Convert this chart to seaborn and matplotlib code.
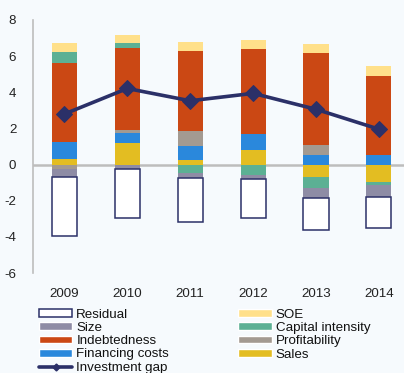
import numpy as np
import matplotlib
matplotlib.use("Agg")
import matplotlib.pyplot as plt
from matplotlib.patches import Patch
from matplotlib.lines import Line2D
import seaborn as sns

# ---- data (percentage points) ----
years = ["2009", "2010", "2011", "2012", "2013", "2014"]
sales = [0.33, 1.20, 0.25, 0.80, -0.71, -0.99]
financing_costs = [0.90, 0.57, 0.79, 0.89, 0.53, 0.53]
profitability = [-0.27, 0.15, 0.84, 0.00, 0.55, 0.00]
indebtedness = [4.41, 4.53, 4.38, 4.68, 5.09, 4.38]
capital_intensity = [0.59, 0.27, -0.44, -0.55, -0.59, -0.14]
size = [-0.44, -0.25, -0.33, -0.27, -0.55, -0.66]
soe = [0.49, 0.44, 0.50, 0.53, 0.51, 0.53]
residual = [-3.24, -2.70, -2.43, -2.15, -1.76, -1.73]
investment_gap = [2.80, 4.21, 3.53, 3.94, 3.06, 1.96]

NAVY = "#2B3068"
BG = "#F6FAFD"
colors = {
    "Sales": "#E3BD22",
    "Financing costs": "#2A88DC",
    "Profitability": "#A39A91",
    "Indebtedness": "#CB4814",
    "Capital intensity": "#5CB094",
    "Size": "#8E8CA5",
    "SOE": "#FFE08A",
}

# stacking order from the zero line outwards
layers = [
    ("Sales", sales),
    ("Financing costs", financing_costs),
    ("Profitability", profitability),
    ("Indebtedness", indebtedness),
    ("Capital intensity", capital_intensity),
    ("Size", size),
    ("SOE", soe),
    ("Residual", residual),
]

sns.set_theme(style="white")
plt.rcParams["font.family"] = ["Liberation Sans", "DejaVu Sans"]
plt.rcParams["axes.unicode_minus"] = False

fig = plt.figure(figsize=(4.04, 3.73), dpi=100, facecolor=BG)
ax = fig.add_axes([33 / 404, 100 / 373, 371 / 404, 253 / 373])
ax.set_facecolor(BG)

pos_base = np.zeros(len(years))
neg_base = np.zeros(len(years))
for name, vals in layers:
    vals = np.array(vals)
    bottom = np.where(vals >= 0, pos_base, neg_base)
    if name == "Residual":
        style = dict(color="white", edgecolor=NAVY, linewidth=1.1)
    else:
        style = dict(color=colors[name], edgecolor="none", linewidth=0)
    sns.barplot(x=years, y=vals, bottom=bottom, width=0.4, saturation=1,
                errorbar=None, ax=ax, zorder=2, **style)
    pos_base += np.where(vals >= 0, vals, 0)
    neg_base += np.where(vals < 0, vals, 0)

ax.axhline(0, color="#BDBDBD", lw=1.8, zorder=1)

sns.lineplot(x=np.arange(len(years)), y=investment_gap, color=NAVY, lw=2.6,
             marker="D", markersize=8, markeredgecolor=NAVY, ax=ax, zorder=5)

ax.set_xlim(-0.5, 5.4)
ax.set_ylim(-6, 8)
ax.set_yticks(np.arange(-6, 9, 2))
ax.set_xticks(np.arange(len(years)))
ax.set_xticklabels(years)
ax.set_xlabel("")
ax.set_ylabel("")
ax.tick_params(axis="both", length=0, labelsize=9.6, labelcolor="#222222")
ax.tick_params(axis="y", pad=12)
ax.tick_params(axis="x", pad=11)
for side in ["top", "right", "bottom"]:
    ax.spines[side].set_visible(False)
ax.spines["left"].set_color("#BDBDBD")
ax.spines["left"].set_linewidth(1.2)

handles = [
    Patch(facecolor="white", edgecolor=NAVY, linewidth=1.1),
    Patch(facecolor=colors["Size"]),
    Patch(facecolor=colors["Indebtedness"]),
    Patch(facecolor=colors["Financing costs"]),
    Line2D([], [], color=NAVY, lw=2.6, marker="D", markersize=3.5),
    Patch(facecolor=colors["SOE"]),
    Patch(facecolor=colors["Capital intensity"]),
    Patch(facecolor=colors["Profitability"]),
    Patch(facecolor=colors["Sales"]),
]
labels = ["Residual", "Size", "Indebtedness", "Financing costs", "Investment gap",
          "SOE", "Capital intensity", "Profitability", "Sales"]
fig.legend(handles, labels, ncol=2, loc="upper left",
           bbox_to_anchor=(39 / 404, 1 - 308.5 / 373), frameon=False,
           fontsize=9.6, handlelength=2.5, handleheight=0.5, labelspacing=0.1,
           handletextpad=0.3, columnspacing=5.2, borderpad=0, borderaxespad=0)
for t in fig.legends[0].get_texts():
    t.set_color("#111111")

fig.savefig("out.png", dpi=100, facecolor=BG)
